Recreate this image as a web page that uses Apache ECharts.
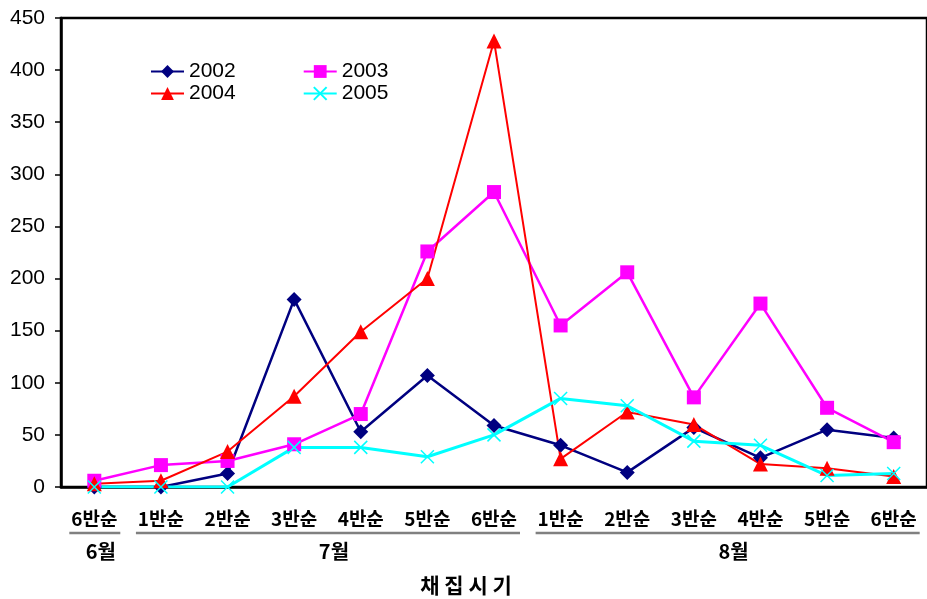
<!DOCTYPE html>
<html><head><meta charset="utf-8">
<script src="https://cdn.jsdelivr.net/npm/echarts@6/dist/echarts.min.js"></script>
<style>html,body{margin:0;padding:0;background:#fff}#c{width:927px;height:599px}</style>
</head><body><div id="c"></div>
<script>
const categories = ['6반순','1반순','2반순','3반순','4반순','5반순','6반순','1반순','2반순','3반순','4반순','5반순','6반순'];
const monthLabels = ['6월','7월','8월'];
const monthStart = [0, 1, 7];
const monthEnd = [0, 6, 12];
const axisTitle = '채 집 시 기';
const seriesNames = ['2002','2003','2004','2005'];
const s2002 = [0, 0, 13, 180, 53, 107, 59, 40, 14, 57, 28, 55, 47];
const s2003 = [6, 21, 25, 41, 70, 226, 283, 155, 206, 86, 176, 76, 43];
const s2004 = [3, 6, 34, 87, 149, 200, 428, 27, 72, 60, 22, 18, 10];
const s2005 = [0, 0, 0, 38, 38, 29, 50, 85, 78, 44, 40, 11, 13];

const chart = echarts.init(document.getElementById('c'), null, {renderer:'canvas'});
const numFont = 'Liberation Sans, Arial, sans-serif';
const krFont = 'Noto Sans CJK KR, sans-serif';

function mk(name, data, color, symbol, size, lw, extra) {
  return Object.assign({
    name, type:'line', data, symbol, symbolSize:size, showSymbol:true,
    lineStyle:{color, width:lw}, itemStyle:{color},
    animation:false, z: 3
  }, extra||{});
}

const legendCommon = {left:150, padding:0, itemWidth:33, itemHeight:16, itemGap:67,
  textStyle:{fontFamily:numFont, fontSize:21, color:'#000', padding:[0,0,0,0]}};

chart.setOption({
  animation:false,
  backgroundColor:'#fff',
  grid:{left:61, right:0, top:18, bottom:112, show:true, borderColor:'#000', borderWidth:2.5, backgroundColor:'#fff'},
  legend:[
    Object.assign({data:[seriesNames[0], seriesNames[1]], top:61}, legendCommon),
    Object.assign({data:[seriesNames[2], seriesNames[3]], top:83}, legendCommon)
  ],
  xAxis:{type:'category', data:categories, boundaryGap:true,
    axisLine:{lineStyle:{color:'#000', width:2.5}},
    axisTick:{inside:true, length:6, interval:0, lineStyle:{color:'#000', width:1.5}},
    axisLabel:{interval:0, margin:22, fontFamily:krFont, fontWeight:'bold', fontSize:19, color:'#000'}},
  yAxis:{type:'value', min:0, max:450, interval:50,
    axisLine:{show:true, lineStyle:{color:'#000', width:2.5}},
    axisTick:{show:true, length:6, lineStyle:{color:'#000', width:1.5}},
    splitLine:{show:false},
    axisLabel:{margin:16, fontFamily:numFont, fontSize:21, color:'#000'}},
  series:[
    mk(seriesNames[0], s2002, '#000080', 'diamond', 15, 2.5),
    mk(seriesNames[1], s2003, '#FF00FF', 'rect', 14, 2.5),
    mk(seriesNames[2], s2004, '#FF0000', 'triangle', 15, 2),
    mk(seriesNames[3], s2005, '#00FFFF', 'path://M0,0L10,10M10,0L0,10', 13, 3,
       {itemStyle:{color:'#00FFFF', borderColor:'#00FFFF', borderWidth:1.5}})
  ]
});

const xp = i => chart.convertToPixel({xAxisIndex:0}, i);
const graphics = [];
for (let k = 0; k < monthLabels.length; k++) {
  const x1 = xp(monthStart[k]) - 25;
  const x2 = xp(monthEnd[k]) + 26;
  graphics.push({type:'line', shape:{x1, y1:533, x2, y2:533}, style:{stroke:'#808080', lineWidth:2.5}});
  graphics.push({type:'text', x:(x1+x2)/2 + 6, y:551, style:{text:monthLabels[k], font:'bold 20px ' + krFont, fill:'#000', textAlign:'center', textVerticalAlign:'middle'}});
}
graphics.push({type:'text', x:466, y:585, style:{text:axisTitle, font:'bold 21px ' + krFont, fill:'#000', textAlign:'center', textVerticalAlign:'middle'}});
chart.setOption({graphic:graphics});
</script></body></html>
